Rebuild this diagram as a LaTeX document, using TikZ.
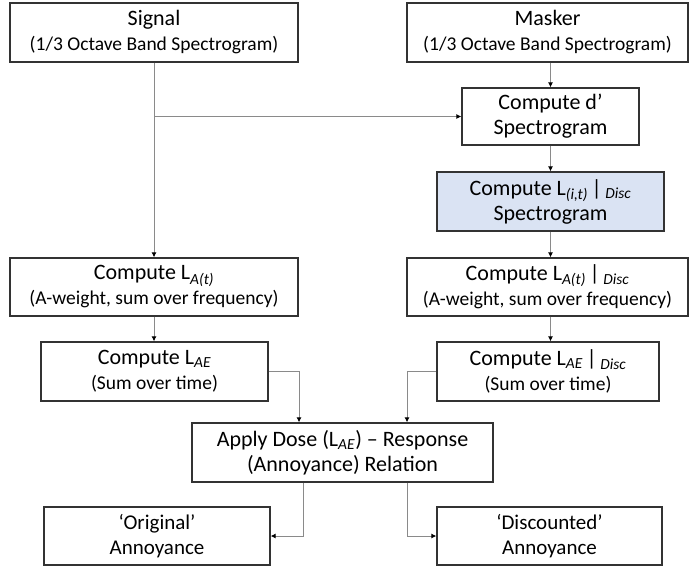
\documentclass[tikz,border=0pt]{standalone}
\usepackage{fontspec}
\setmainfont{Carlito}
\usetikzlibrary{arrows.meta}
\definecolor{specblue}{HTML}{DAE3F3}
\definecolor{edgegray}{HTML}{333333}
\definecolor{linegray}{HTML}{8A8A8A}
\newcommand{\sbi}[1]{\textsubscript{\textit{#1}}}
\newcommand{\paren}[1]{{\fontsize{19.5}{25}\selectfont #1}}
\begin{document}
\begin{tikzpicture}[x=1pt, y=-1pt, >={Latex[length=5pt,width=5pt,color=black]},
  font=\fontsize{22}{25}\selectfont,
  box/.style={draw=edgegray, line width=1.3pt, align=center, inner sep=0pt},
  flow/.style={->, draw=linegray, line width=0.9pt}]
\useasboundingbox (0,0) rectangle (690,568);
% left column
\node[box, minimum width=288, minimum height=59] (sig) at (154,32.5) {Signal\\\paren{(1/3 Octave Band Spectrogram)}};
\node[box, minimum width=288, minimum height=58] (lat) at (154,287) {Compute L\sbi{A(t)}\\\paren{(A-weight, sum over frequency)}};
\node[box, minimum width=227, minimum height=59] (lae) at (154.5,371.5) {Compute L\sbi{AE}\\\paren{(Sum over time)}};
\node[box, minimum width=226, minimum height=58, font=\fontsize{21}{25}\selectfont] (orig) at (157,536) {‘Original’\\Annoyance};
% right column
\node[box, minimum width=281, minimum height=59] (mask) at (547.5,32.5) {Masker\\\paren{(1/3 Octave Band Spectrogram)}};
\node[box, minimum width=177, minimum height=57] (dp) at (550.5,116.5) {Compute d’\\Spectrogram};
\node[box, fill=specblue, minimum width=227, minimum height=59] (li) at (550.5,201.5) {Compute L\sbi{(i,t)}\,|\,\sbi{Disc}\\Spectrogram};
\node[box, minimum width=281, minimum height=58] (latd) at (547.5,287) {Compute L\sbi{A(t)}\,|\,\sbi{Disc}\\\paren{(A-weight, sum over frequency)}};
\node[box, minimum width=222, minimum height=59] (laed) at (548,371.5) {Compute L\sbi{AE}\,|\,\sbi{Disc}\\\paren{(Sum over time)}};
\node[box, minimum width=225, minimum height=58, font=\fontsize{21}{25}\selectfont] (disc) at (549.5,536) {‘Discounted’\\Annoyance};
% middle
\node[box, minimum width=301, minimum height=59] (apply) at (342.5,452.5) {Apply Dose (L\sbi{AE}) – Response\\(Annoyance) Relation};
\coordinate (br) at (sig.south |- dp.west);
% connectors
\draw[flow] (sig) -- (lat);
\draw[flow] (br) -- (dp.west);
\draw[flow] (dp.north |- mask.south) -- (dp.north);
\draw[flow] (dp) -- (li);
\draw[flow] (li) -- (li |- latd.north);
\draw[flow] (lat) -- (lat |- lae.north);
\draw[flow] (li |- latd.south) -- (li |- laed.north);
\draw[flow] (lae.east) -| ([xshift=-43.5pt]apply.north);
\draw[flow] (laed.west) -| ([xshift=64.5pt]apply.north);
\draw[flow] ([xshift=-39.5pt]apply.south) |- (orig.east);
\draw[flow] ([xshift=64.5pt]apply.south) |- (disc.west);
\end{tikzpicture}
\end{document}
